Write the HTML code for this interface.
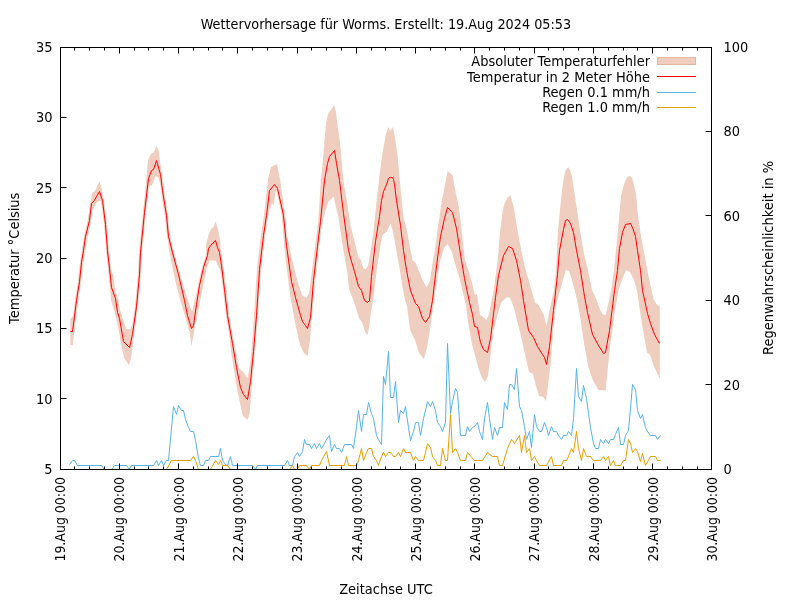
<!DOCTYPE html>
<html><head><meta charset="utf-8"><title>Wettervorhersage für Worms</title><style>
html,body{margin:0;padding:0;background:#fff;width:800px;height:600px;overflow:hidden}
svg{display:block}
text{font-family:"DejaVu Sans","Liberation Sans",sans-serif;font-size:13.7px;fill:#000}
</style></head><body>
<svg width="800" height="600" viewBox="0 0 800 600">
<rect width="800" height="600" fill="#fff"/>
<polygon points="70.40,319.00 73.50,315.00 75.90,308.00 78.00,294.00 80.50,274.00 83.00,252.00 85.00,234.00 88.50,216.00 91.00,202.00 92.00,193.00 94.90,191.00 99.60,181.00 102.00,190.00 104.00,205.00 106.00,230.00 108.00,255.00 109.60,270.00 113.00,274.00 115.00,290.00 118.00,298.00 120.00,310.00 124.00,322.00 126.00,329.00 130.00,329.00 132.00,326.00 136.00,304.00 139.00,270.00 141.00,246.00 144.00,205.00 148.00,160.00 151.00,154.00 154.00,152.00 156.40,145.60 159.00,152.00 161.00,170.00 163.00,192.00 166.00,213.00 170.00,235.00 172.75,250.00 179.50,272.50 186.25,295.00 190.75,308.50 192.25,311.50 196.00,295.00 199.75,280.00 204.25,262.00 206.00,255.00 206.00,245.00 208.50,235.00 211.00,229.00 213.50,227.00 215.50,221.20 218.00,229.00 220.00,240.00 221.00,251.00 224.00,271.00 228.00,301.00 229.00,315.00 234.00,343.00 239.00,368.00 243.00,372.00 247.60,378.00 250.00,365.00 252.00,345.00 254.00,315.00 257.00,269.00 261.00,235.00 264.00,215.00 268.00,179.00 271.00,167.00 274.00,165.40 277.00,164.00 280.00,179.00 285.00,215.00 286.00,231.00 292.00,259.00 298.00,283.00 302.00,295.00 306.00,298.00 309.00,293.00 310.80,280.00 315.00,246.70 318.30,221.70 320.80,180.00 322.00,171.00 326.00,123.00 328.50,112.50 331.50,109.50 334.00,104.70 336.00,112.50 337.50,124.50 339.70,139.50 343.30,180.00 346.70,200.00 350.80,226.70 355.00,243.30 358.30,256.70 360.80,260.00 363.30,268.30 365.80,269.00 368.30,265.00 370.80,250.00 373.30,233.30 376.70,200.00 379.50,175.00 382.50,153.00 386.00,133.50 388.50,127.00 390.00,131.00 393.00,127.00 395.00,138.00 397.50,154.50 399.70,180.00 401.70,200.00 403.30,216.70 405.80,225.00 409.20,243.30 412.50,260.00 415.80,263.30 419.20,271.70 422.50,280.00 426.70,287.50 430.00,280.00 433.30,258.30 435.00,250.00 438.00,226.00 442.00,200.00 447.60,171.00 452.40,175.00 456.00,194.00 459.00,208.00 462.00,234.00 465.00,260.00 470.00,275.00 475.00,295.00 477.00,293.75 480.00,315.00 483.75,317.50 486.25,320.00 488.75,315.00 493.75,290.00 497.50,262.00 500.00,232.00 502.50,212.00 504.50,203.50 507.00,198.00 510.50,195.25 513.75,207.50 517.50,230.00 521.25,250.00 525.00,267.50 530.00,285.00 535.00,302.50 538.75,305.00 543.75,315.00 546.40,326.00 550.00,308.00 554.00,290.00 556.00,270.00 558.00,230.00 561.00,200.00 563.00,182.00 565.00,172.00 567.00,168.00 568.50,167.50 570.00,170.00 572.00,177.00 574.00,190.00 577.00,210.00 580.00,230.00 584.00,254.00 588.00,270.00 592.00,290.00 594.70,295.50 600.20,310.00 603.00,314.80 605.70,314.80 609.40,299.00 611.20,290.00 614.00,270.00 618.00,230.00 621.00,196.00 623.50,186.00 626.00,179.00 628.00,176.50 630.00,175.80 632.00,178.00 633.50,183.00 636.00,194.00 638.00,216.00 641.00,236.00 644.00,252.00 648.00,274.00 651.60,290.00 653.40,299.00 657.00,304.70 659.80,306.50 659.80,379.00 654.30,367.00 649.70,354.20 647.00,352.40 642.40,326.70 636.90,290.00 634.00,280.00 630.00,272.00 626.00,270.00 622.00,280.00 618.50,290.00 614.90,312.00 610.30,345.00 607.50,370.70 605.70,390.50 598.30,390.00 592.80,380.00 588.30,367.00 583.70,341.40 580.00,315.70 577.00,300.00 572.00,280.00 569.00,271.00 566.00,270.00 563.00,280.00 559.00,294.00 556.00,305.00 553.00,330.00 551.00,360.00 548.00,386.00 546.00,401.00 543.00,397.00 539.00,396.00 536.00,386.00 533.00,374.00 529.00,372.00 524.00,350.00 520.00,332.00 517.50,322.50 513.75,307.50 510.00,297.50 506.25,297.50 501.25,302.50 497.50,315.00 493.75,330.00 492.00,342.00 490.00,360.00 488.00,376.00 485.00,382.00 482.00,378.00 479.00,370.00 476.00,359.00 472.00,344.00 468.00,322.00 466.00,306.00 460.00,280.00 454.00,260.00 452.00,252.00 447.60,244.00 444.00,248.00 440.00,262.00 437.00,280.00 434.00,300.00 430.00,330.00 426.50,350.00 423.75,359.00 419.00,353.00 415.00,340.00 410.00,330.00 407.00,306.00 405.00,300.00 402.50,286.70 399.20,266.70 395.80,246.70 392.50,230.00 390.30,223.30 389.20,226.70 386.70,231.70 382.50,235.00 380.00,248.30 376.70,270.00 373.30,300.00 371.00,312.00 369.00,328.00 367.60,335.00 365.00,332.00 362.00,322.00 359.00,318.00 354.00,302.00 349.00,289.00 347.50,273.30 343.30,250.00 338.30,216.70 336.00,207.00 333.70,196.70 328.30,201.70 323.30,218.30 320.00,236.00 318.75,245.00 315.00,282.50 312.50,307.50 310.00,340.00 307.50,356.50 303.75,352.50 300.00,345.00 295.00,322.50 290.00,295.00 287.00,270.00 284.00,245.00 282.00,215.00 280.00,201.00 276.00,189.00 273.60,206.00 272.00,203.00 268.00,215.00 265.00,236.00 261.00,268.00 258.00,300.00 256.00,330.00 253.00,367.00 251.00,395.00 249.60,413.00 247.60,420.00 243.00,416.00 240.00,403.00 236.00,383.00 231.00,351.00 226.00,305.00 222.00,279.00 220.00,270.00 215.50,260.50 209.50,260.50 206.50,269.50 202.75,287.50 199.00,307.00 195.25,325.00 193.00,338.00 191.30,346.00 190.00,334.00 186.25,320.50 181.00,302.50 175.00,280.00 169.00,250.00 166.00,224.00 163.00,203.00 161.00,186.00 158.00,177.00 155.60,176.00 152.00,185.00 148.00,187.00 144.00,218.00 141.00,258.00 139.00,282.00 136.00,314.00 133.00,344.00 131.00,358.00 129.00,365.00 124.00,358.00 121.00,344.00 118.00,326.00 114.00,310.00 111.00,300.00 107.00,254.00 105.00,228.00 103.00,208.00 101.00,201.00 97.00,202.00 92.00,211.00 90.00,226.00 87.00,240.00 84.50,254.00 82.00,272.00 79.50,290.00 77.00,310.00 74.50,330.00 72.70,345.00 70.40,345.00" fill="#f0cebf" stroke="none"/>
<polyline points="70.5,331.5 72.5,331.5 74.5,316.5 76.5,300.5 79.5,281.5 81.5,262.5 83.5,250.5 85.5,236.5 89.5,220.5 91.5,203.5 94.5,200.5 96.5,196.5 99.5,191.5 102.5,200.5 105.5,224.5 107.5,250.5 109.5,268.5 111.5,287.5 115.5,298.5 117.5,312.5 119.5,318.5 123.5,341.5 129.5,347.5 132.5,334.5 136.5,306.5 139.5,274.5 140.5,252.5 144.5,212.5 148.5,178.5 151.5,170.5 153.5,169.5 156.5,160.5 160.5,174.5 162.5,190.5 166.5,215.5 168.5,236.5 172.5,252.5 178.5,274.5 184.5,300.5 187.5,315.5 191.5,328.5 193.5,325.5 196.5,304.5 199.5,285.5 203.5,267.5 207.5,255.5 208.5,248.5 210.5,245.5 215.5,240.5 217.5,247.5 219.5,252.5 221.5,265.5 224.5,289.5 227.5,315.5 232.5,343.5 236.5,367.5 240.5,387.5 243.5,394.5 247.5,399.5 250.5,381.5 253.5,351.5 256.5,315.5 259.5,269.5 263.5,235.5 266.5,215.5 269.5,190.5 274.5,184.5 277.5,188.5 283.5,215.5 286.5,245.5 291.5,281.5 295.5,297.5 300.5,315.5 302.5,321.5 305.5,325.5 307.5,328.5 310.5,317.5 313.5,280.5 317.5,246.5 320.5,221.5 324.5,180.5 327.5,163.5 329.5,156.5 334.5,150.5 336.5,163.5 339.5,180.5 343.5,213.5 348.5,250.5 351.5,261.5 354.5,271.5 358.5,286.5 361.5,290.5 364.5,300.5 367.5,302.5 369.5,300.5 371.5,276.5 375.5,241.5 379.5,216.5 381.5,200.5 383.5,191.5 386.5,184.5 388.5,178.5 389.5,177.5 390.5,177.5 392.5,177.5 393.5,179.5 394.5,184.5 396.5,200.5 400.5,225.5 403.5,250.5 406.5,270.5 410.5,290.5 415.5,303.5 418.5,306.5 422.5,318.5 425.5,322.5 429.5,316.5 432.5,300.5 435.5,274.5 438.5,250.5 440.5,236.5 444.5,218.5 447.5,207.5 452.5,212.5 456.5,228.5 461.5,260.5 464.5,278.5 469.5,302.5 472.5,314.5 474.5,326.5 477.5,327.5 480.5,342.5 483.5,349.5 487.5,352.5 490.5,338.5 491.5,330.5 495.5,297.5 498.5,275.5 503.5,255.5 508.5,246.5 512.5,248.5 516.5,260.5 520.5,280.5 523.5,300.5 528.5,330.5 533.5,337.5 537.5,346.5 542.5,354.5 544.5,357.5 546.5,364.5 549.5,346.5 553.5,310.5 557.5,274.5 559.5,250.5 563.5,229.5 565.5,220.5 567.5,219.5 570.5,223.5 573.5,232.5 576.5,250.5 580.5,270.5 584.5,296.5 587.5,312.5 592.5,334.5 598.5,345.5 603.5,353.5 605.5,352.5 609.5,330.5 614.5,290.5 617.5,270.5 619.5,248.5 622.5,232.5 625.5,224.5 630.5,223.5 632.5,227.5 635.5,236.5 637.5,250.5 640.5,270.5 642.5,290.5 647.5,313.5 650.5,323.5 654.5,334.5 659.5,343.5" fill="none" stroke="#f0cebf" stroke-width="3" stroke-linejoin="round"/>
<polyline points="70.5,331.5 72.5,331.5 74.5,316.5 76.5,300.5 79.5,281.5 81.5,262.5 83.5,250.5 85.5,236.5 89.5,220.5 91.5,203.5 94.5,200.5 96.5,196.5 99.5,191.5 102.5,200.5 105.5,224.5 107.5,250.5 109.5,268.5 111.5,287.5 115.5,298.5 117.5,312.5 119.5,318.5 123.5,341.5 129.5,347.5 132.5,334.5 136.5,306.5 139.5,274.5 140.5,252.5 144.5,212.5 148.5,178.5 151.5,170.5 153.5,169.5 156.5,160.5 160.5,174.5 162.5,190.5 166.5,215.5 168.5,236.5 172.5,252.5 178.5,274.5 184.5,300.5 187.5,315.5 191.5,328.5 193.5,325.5 196.5,304.5 199.5,285.5 203.5,267.5 207.5,255.5 208.5,248.5 210.5,245.5 215.5,240.5 217.5,247.5 219.5,252.5 221.5,265.5 224.5,289.5 227.5,315.5 232.5,343.5 236.5,367.5 240.5,387.5 243.5,394.5 247.5,399.5 250.5,381.5 253.5,351.5 256.5,315.5 259.5,269.5 263.5,235.5 266.5,215.5 269.5,190.5 274.5,184.5 277.5,188.5 283.5,215.5 286.5,245.5 291.5,281.5 295.5,297.5 300.5,315.5 302.5,321.5 305.5,325.5 307.5,328.5 310.5,317.5 313.5,280.5 317.5,246.5 320.5,221.5 324.5,180.5 327.5,163.5 329.5,156.5 334.5,150.5 336.5,163.5 339.5,180.5 343.5,213.5 348.5,250.5 351.5,261.5 354.5,271.5 358.5,286.5 361.5,290.5 364.5,300.5 367.5,302.5 369.5,300.5 371.5,276.5 375.5,241.5 379.5,216.5 381.5,200.5 383.5,191.5 386.5,184.5 388.5,178.5 389.5,177.5 390.5,177.5 392.5,177.5 393.5,179.5 394.5,184.5 396.5,200.5 400.5,225.5 403.5,250.5 406.5,270.5 410.5,290.5 415.5,303.5 418.5,306.5 422.5,318.5 425.5,322.5 429.5,316.5 432.5,300.5 435.5,274.5 438.5,250.5 440.5,236.5 444.5,218.5 447.5,207.5 452.5,212.5 456.5,228.5 461.5,260.5 464.5,278.5 469.5,302.5 472.5,314.5 474.5,326.5 477.5,327.5 480.5,342.5 483.5,349.5 487.5,352.5 490.5,338.5 491.5,330.5 495.5,297.5 498.5,275.5 503.5,255.5 508.5,246.5 512.5,248.5 516.5,260.5 520.5,280.5 523.5,300.5 528.5,330.5 533.5,337.5 537.5,346.5 542.5,354.5 544.5,357.5 546.5,364.5 549.5,346.5 553.5,310.5 557.5,274.5 559.5,250.5 563.5,229.5 565.5,220.5 567.5,219.5 570.5,223.5 573.5,232.5 576.5,250.5 580.5,270.5 584.5,296.5 587.5,312.5 592.5,334.5 598.5,345.5 603.5,353.5 605.5,352.5 609.5,330.5 614.5,290.5 617.5,270.5 619.5,248.5 622.5,232.5 625.5,224.5 630.5,223.5 632.5,227.5 635.5,236.5 637.5,250.5 640.5,270.5 642.5,290.5 647.5,313.5 650.5,323.5 654.5,334.5 659.5,343.5" fill="none" stroke="#ff0000" stroke-width="1" stroke-linejoin="round"/>
<polyline points="69.5,464.5 72.5,460.5 74.5,460.5 77.5,465.5 101.5,465.5 104.5,469.5 111.5,469.5 114.5,465.5 126.5,465.5 129.5,469.5 131.5,465.5 153.5,465.5 156.5,460.5 158.5,465.5 161.5,460.5 163.5,465.5 166.5,460.5 168.5,460.5 173.5,406.5 176.5,414.5 178.5,405.5 181.5,410.5 183.5,410.5 185.5,419.5 188.5,427.5 190.5,431.5 193.5,431.5 195.5,440.5 198.5,458.5 200.5,465.5 203.5,465.5 205.5,460.5 208.5,460.5 210.5,456.5 218.5,456.5 220.5,448.5 222.5,460.5 225.5,464.5 227.5,465.5 230.5,456.5 232.5,465.5 252.5,465.5 255.5,469.5 257.5,465.5 284.5,465.5 287.5,460.5 289.5,465.5 292.5,465.5 294.5,456.5 297.5,452.5 299.5,456.5 302.5,451.5 304.5,439.5 306.5,444.5 309.5,444.5 311.5,448.5 314.5,443.5 316.5,448.5 319.5,443.5 321.5,448.5 324.5,443.5 326.5,439.5 329.5,435.5 331.5,451.5 334.5,444.5 336.5,448.5 339.5,448.5 341.5,452.5 344.5,444.5 351.5,444.5 353.5,448.5 356.5,426.5 358.5,410.5 361.5,431.5 363.5,414.5 366.5,414.5 368.5,402.5 371.5,413.5 373.5,418.5 376.5,435.5 378.5,439.5 381.5,444.5 383.5,376.5 385.5,384.5 388.5,351.5 390.5,397.5 393.5,397.5 395.5,381.5 398.5,422.5 400.5,410.5 403.5,413.5 405.5,406.5 408.5,427.5 410.5,440.5 413.5,431.5 415.5,422.5 418.5,422.5 420.5,435.5 423.5,418.5 425.5,410.5 427.5,401.5 430.5,406.5 432.5,401.5 435.5,410.5 437.5,422.5 440.5,426.5 442.5,431.5 445.5,422.5 447.5,343.5 450.5,413.5 452.5,401.5 455.5,388.5 457.5,392.5 460.5,435.5 465.5,435.5 467.5,426.5 469.5,431.5 472.5,427.5 474.5,426.5 477.5,422.5 479.5,431.5 482.5,439.5 484.5,418.5 487.5,402.5 489.5,418.5 492.5,439.5 494.5,427.5 497.5,435.5 499.5,427.5 502.5,427.5 504.5,402.5 507.5,409.5 509.5,384.5 511.5,384.5 514.5,389.5 516.5,368.5 519.5,406.5 521.5,410.5 524.5,426.5 526.5,439.5 529.5,431.5 531.5,447.5 534.5,414.5 536.5,426.5 539.5,431.5 541.5,431.5 544.5,422.5 546.5,427.5 548.5,435.5 551.5,426.5 553.5,431.5 556.5,431.5 558.5,435.5 561.5,439.5 563.5,435.5 566.5,435.5 568.5,431.5 571.5,435.5 573.5,418.5 576.5,368.5 578.5,396.5 581.5,401.5 583.5,385.5 586.5,398.5 588.5,413.5 590.5,427.5 593.5,443.5 595.5,448.5 598.5,448.5 600.5,439.5 603.5,443.5 605.5,439.5 608.5,443.5 610.5,439.5 613.5,439.5 615.5,434.5 618.5,427.5 620.5,444.5 623.5,444.5 625.5,435.5 628.5,430.5 630.5,408.5 632.5,384.5 635.5,389.5 637.5,410.5 640.5,418.5 642.5,414.5 645.5,427.5 647.5,431.5 650.5,435.5 655.5,435.5 657.5,439.5 660.5,435.5" fill="none" stroke="#56b4e9" stroke-width="1" stroke-linejoin="round"/>
<polyline points="69.5,469.5 166.5,469.5 171.5,460.5 190.5,460.5 193.5,456.5 195.5,460.5 198.5,469.5 210.5,469.5 215.5,460.5 218.5,464.5 220.5,460.5 222.5,465.5 227.5,465.5 230.5,469.5 289.5,469.5 292.5,465.5 294.5,469.5 297.5,469.5 299.5,465.5 306.5,465.5 309.5,469.5 311.5,465.5 319.5,465.5 321.5,460.5 326.5,451.5 329.5,465.5 344.5,465.5 346.5,456.5 348.5,465.5 356.5,465.5 358.5,460.5 361.5,448.5 363.5,460.5 366.5,452.5 368.5,448.5 371.5,448.5 373.5,456.5 376.5,460.5 378.5,465.5 381.5,456.5 383.5,452.5 385.5,456.5 388.5,452.5 390.5,452.5 393.5,456.5 395.5,456.5 398.5,452.5 400.5,456.5 403.5,448.5 405.5,452.5 410.5,452.5 413.5,460.5 415.5,456.5 418.5,460.5 423.5,460.5 425.5,452.5 427.5,443.5 430.5,447.5 432.5,456.5 435.5,460.5 437.5,465.5 440.5,465.5 442.5,448.5 445.5,460.5 447.5,460.5 450.5,414.5 452.5,452.5 455.5,448.5 457.5,452.5 460.5,460.5 465.5,460.5 467.5,452.5 474.5,460.5 482.5,460.5 487.5,452.5 492.5,456.5 497.5,456.5 499.5,465.5 502.5,465.5 507.5,448.5 511.5,439.5 514.5,443.5 519.5,435.5 521.5,452.5 524.5,435.5 526.5,452.5 529.5,448.5 531.5,460.5 534.5,456.5 536.5,460.5 539.5,465.5 546.5,465.5 551.5,456.5 553.5,465.5 561.5,465.5 563.5,460.5 566.5,460.5 568.5,456.5 571.5,448.5 573.5,452.5 576.5,431.5 578.5,448.5 581.5,460.5 583.5,448.5 586.5,456.5 590.5,456.5 593.5,460.5 600.5,460.5 603.5,456.5 605.5,460.5 608.5,456.5 610.5,465.5 613.5,460.5 615.5,465.5 620.5,465.5 623.5,460.5 625.5,460.5 628.5,439.5 630.5,443.5 632.5,452.5 635.5,448.5 637.5,451.5 640.5,461.5 642.5,453.5 645.5,465.5 650.5,456.5 655.5,456.5 657.5,460.5 660.5,460.5" fill="none" stroke="#e69f00" stroke-width="1" stroke-linejoin="round"/>
<path d="M60.5 469.5v-6M60.5 47.5v6M74.5 469.5v-3M74.5 47.5v3M89.5 469.5v-3M89.5 47.5v3M104.5 469.5v-3M104.5 47.5v3M119.5 469.5v-6M119.5 47.5v6M134.5 469.5v-3M134.5 47.5v3M148.5 469.5v-3M148.5 47.5v3M163.5 469.5v-3M163.5 47.5v3M178.5 469.5v-6M178.5 47.5v6M193.5 469.5v-3M193.5 47.5v3M208.5 469.5v-3M208.5 47.5v3M222.5 469.5v-3M222.5 47.5v3M237.5 469.5v-6M237.5 47.5v6M252.5 469.5v-3M252.5 47.5v3M267.5 469.5v-3M267.5 47.5v3M282.5 469.5v-3M282.5 47.5v3M297.5 469.5v-6M297.5 47.5v6M311.5 469.5v-3M311.5 47.5v3M326.5 469.5v-3M326.5 47.5v3M341.5 469.5v-3M341.5 47.5v3M356.5 469.5v-6M356.5 47.5v6M371.5 469.5v-3M371.5 47.5v3M385.5 469.5v-3M385.5 47.5v3M400.5 469.5v-3M400.5 47.5v3M415.5 469.5v-6M415.5 47.5v6M430.5 469.5v-3M430.5 47.5v3M445.5 469.5v-3M445.5 47.5v3M460.5 469.5v-3M460.5 47.5v3M474.5 469.5v-6M474.5 47.5v6M489.5 469.5v-3M489.5 47.5v3M504.5 469.5v-3M504.5 47.5v3M519.5 469.5v-3M519.5 47.5v3M534.5 469.5v-6M534.5 47.5v6M548.5 469.5v-3M548.5 47.5v3M563.5 469.5v-3M563.5 47.5v3M578.5 469.5v-3M578.5 47.5v3M593.5 469.5v-6M593.5 47.5v6M608.5 469.5v-3M608.5 47.5v3M623.5 469.5v-3M623.5 47.5v3M637.5 469.5v-3M637.5 47.5v3M652.5 469.5v-6M652.5 47.5v6M667.5 469.5v-3M667.5 47.5v3M682.5 469.5v-3M682.5 47.5v3M697.5 469.5v-3M697.5 47.5v3M711.5 469.5v-6M711.5 47.5v6M60.5 469.5h6M60.5 398.5h6M60.5 328.5h6M60.5 258.5h6M60.5 187.5h6M60.5 117.5h6M60.5 47.5h6M711.5 469.5h-6M711.5 384.5h-6M711.5 300.5h-6M711.5 215.5h-6M711.5 131.5h-6M711.5 47.5h-6" stroke="#000" stroke-width="1" fill="none"/>
<rect x="60.5" y="47.5" width="651" height="422" fill="none" stroke="#000" stroke-width="1"/>
<rect x="657.5" y="57.5" width="38" height="7" fill="#f0cebf" stroke="#e8b6a0" stroke-width="1"/>
<path d="M657 76.5h39" stroke="#ff0000" stroke-width="1"/>
<path d="M657 92.5h39" stroke="#56b4e9" stroke-width="1"/>
<path d="M657 107.5h39" stroke="#e69f00" stroke-width="1"/>
<text x="385.9" y="29" text-anchor="middle" textLength="370.50" lengthAdjust="spacingAndGlyphs">Wettervorhersage für Worms. Erstellt: 19.Aug 2024 05:53</text>
<text x="52.5" y="474.0" text-anchor="end" textLength="8.28" lengthAdjust="spacingAndGlyphs">5</text>
<text x="52.5" y="403.7" text-anchor="end" textLength="16.55" lengthAdjust="spacingAndGlyphs">10</text>
<text x="52.5" y="333.3" text-anchor="end" textLength="16.55" lengthAdjust="spacingAndGlyphs">15</text>
<text x="52.5" y="263.0" text-anchor="end" textLength="16.55" lengthAdjust="spacingAndGlyphs">20</text>
<text x="52.5" y="192.7" text-anchor="end" textLength="16.55" lengthAdjust="spacingAndGlyphs">25</text>
<text x="52.5" y="122.3" text-anchor="end" textLength="16.55" lengthAdjust="spacingAndGlyphs">30</text>
<text x="52.5" y="52.0" text-anchor="end" textLength="16.55" lengthAdjust="spacingAndGlyphs">35</text>
<text x="723.5" y="474.0" textLength="8.28" lengthAdjust="spacingAndGlyphs">0</text>
<text x="723.5" y="389.6" textLength="16.55" lengthAdjust="spacingAndGlyphs">20</text>
<text x="723.5" y="305.2" textLength="16.55" lengthAdjust="spacingAndGlyphs">40</text>
<text x="723.5" y="220.8" textLength="16.55" lengthAdjust="spacingAndGlyphs">60</text>
<text x="723.5" y="136.4" textLength="16.55" lengthAdjust="spacingAndGlyphs">80</text>
<text x="723.5" y="52.0" textLength="24.83" lengthAdjust="spacingAndGlyphs">100</text>
<text transform="translate(65.0,477) rotate(-90)" text-anchor="end" textLength="84.60" lengthAdjust="spacingAndGlyphs">19.Aug 00:00</text>
<text transform="translate(124.3,477) rotate(-90)" text-anchor="end" textLength="84.60" lengthAdjust="spacingAndGlyphs">20.Aug 00:00</text>
<text transform="translate(183.6,477) rotate(-90)" text-anchor="end" textLength="84.60" lengthAdjust="spacingAndGlyphs">21.Aug 00:00</text>
<text transform="translate(242.9,477) rotate(-90)" text-anchor="end" textLength="84.60" lengthAdjust="spacingAndGlyphs">22.Aug 00:00</text>
<text transform="translate(302.2,477) rotate(-90)" text-anchor="end" textLength="84.60" lengthAdjust="spacingAndGlyphs">23.Aug 00:00</text>
<text transform="translate(361.5,477) rotate(-90)" text-anchor="end" textLength="84.60" lengthAdjust="spacingAndGlyphs">24.Aug 00:00</text>
<text transform="translate(420.8,477) rotate(-90)" text-anchor="end" textLength="84.60" lengthAdjust="spacingAndGlyphs">25.Aug 00:00</text>
<text transform="translate(480.1,477) rotate(-90)" text-anchor="end" textLength="84.60" lengthAdjust="spacingAndGlyphs">26.Aug 00:00</text>
<text transform="translate(539.4,477) rotate(-90)" text-anchor="end" textLength="84.60" lengthAdjust="spacingAndGlyphs">27.Aug 00:00</text>
<text transform="translate(598.7,477) rotate(-90)" text-anchor="end" textLength="84.60" lengthAdjust="spacingAndGlyphs">28.Aug 00:00</text>
<text transform="translate(658.0,477) rotate(-90)" text-anchor="end" textLength="84.60" lengthAdjust="spacingAndGlyphs">29.Aug 00:00</text>
<text transform="translate(717.3,477) rotate(-90)" text-anchor="end" textLength="84.60" lengthAdjust="spacingAndGlyphs">30.Aug 00:00</text>
<text x="386" y="594" text-anchor="middle" textLength="93.64" lengthAdjust="spacingAndGlyphs">Zeitachse UTC</text>
<text transform="translate(18.5,258.3) rotate(-90)" text-anchor="middle" textLength="131.36" lengthAdjust="spacingAndGlyphs">Temperatur °Celsius</text>
<text transform="translate(773,258) rotate(-90)" text-anchor="middle" textLength="193.98" lengthAdjust="spacingAndGlyphs">Regenwahrscheinlichkeit in %</text>
<text x="650" y="66" text-anchor="end" textLength="178.70" lengthAdjust="spacingAndGlyphs">Absoluter Temperaturfehler</text>
<text x="650" y="81.6" text-anchor="end" textLength="182.92" lengthAdjust="spacingAndGlyphs">Temperatur in 2 Meter Höhe</text>
<text x="650" y="96.6" text-anchor="end" textLength="107.83" lengthAdjust="spacingAndGlyphs">Regen 0.1 mm/h</text>
<text x="650" y="111.7" text-anchor="end" textLength="107.83" lengthAdjust="spacingAndGlyphs">Regen 1.0 mm/h</text>
</svg>
</body></html>
